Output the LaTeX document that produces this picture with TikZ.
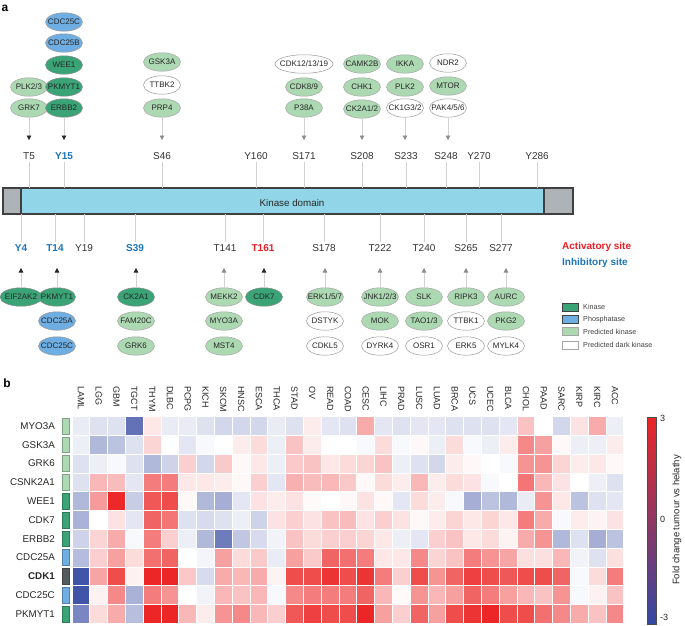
\documentclass[tikz,border=0pt]{standalone}
\usepackage{fontspec}
\setmainfont{Liberation Sans}
\usetikzlibrary{shapes.geometric,arrows.meta}
\definecolor{kgreen}{RGB}{58,164,118}
\definecolor{lgreen}{RGB}{172,217,178}
\definecolor{pblue}{RGB}{110,174,226}
\definecolor{sblue}{RGB}{27,117,188}
\definecolor{sred}{RGB}{237,28,36}
\definecolor{dombar}{RGB}{144,214,232}
\definecolor{greybar}{RGB}{174,179,184}
\definecolor{hmred}{RGB}{236,38,38}
\definecolor{hmblue}{RGB}{52,72,162}
\definecolor{cdkgrey}{RGB}{85,90,95}
\newcommand{\zb}[1]{\makebox[0pt]{#1}}
\begin{document}
\begin{tikzpicture}[x=1pt,y=-1pt,
  ell/.style={ellipse, minimum width=37pt, minimum height=18.5pt, inner sep=0pt, line width=0.5pt, font=\fontsize{8}{9}\selectfont, text=black!85},
  kin/.style={ell, fill=kgreen, draw=black!45},
  pho/.style={ell, fill=pblue, draw=black!40},
  pkin/.style={ell, fill=lgreen, draw=black!35},
  dkin/.style={ell, fill=white, draw=black!40},
  site/.style={font=\fontsize{10}{12}\selectfont, text=black!80, inner sep=2pt},
  inh/.style={site, text=sblue, font=\bfseries\fontsize{10}{12}\selectfont},
  act/.style={site, text=sred, font=\bfseries\fontsize{10}{12}\selectfont},
  tick/.style={draw=black!18, line width=0.6pt},
  kconn/.style={draw=black!18, line width=0.6pt, -{Triangle[width=4.5pt,length=4.5pt,color=black!85]}},
  pconn/.style={draw=black!18, line width=0.6pt, -{Triangle[width=4.5pt,length=4.5pt,color=black!45]}},
  legbox/.style={rectangle, minimum width=16pt, minimum height=8pt, inner sep=0pt, line width=0.9pt},
  legtxt/.style={anchor=west, font=\fontsize{7.2}{9}\selectfont, text=black!75, inner sep=0pt},
  rowlab/.style={anchor=east, font=\fontsize{9.8}{11}\selectfont, text=black!85, inner sep=0pt},
  collab/.style={anchor=west, rotate=-90, font=\fontsize{9}{11}\selectfont, text=black!85, inner sep=0pt},
  cblab/.style={font=\fontsize{9}{11}\selectfont, text=black!85, inner sep=0pt},
  panel/.style={font=\bfseries\fontsize{12}{13}\selectfont, inner sep=0pt},
]
\useasboundingbox (0,0) rectangle (685,625);

% ---------- panel a ----------
\node[panel] (pa) at (5,8) {a};

% protein bar
\fill[greybar] (3,188) rectangle (21,214);
\fill[dombar] (21,188) rectangle (544,214);
\fill[greybar] (544,188) rectangle (573,214);
\draw[line width=1.1pt, black!75] (3,188) rectangle (573,214);
\draw[line width=1.1pt, black!75] (21,188) -- (21,214);
\draw[line width=1.1pt, black!75] (544,188) -- (544,214);
\node[minimum width=570pt, minimum height=26pt, inner sep=0pt] (bar) at (288,201) {};
\node[font=\fontsize{9.8}{11}\selectfont, text=black!85] (kd) at (292,203) {Kinase domain};

% top sites
\node[site] (sT5) at (29,156) {T5};
\node[inh] (sY15) at (64,156) {Y15};
\node[site] (sS46) at (162,156) {S46};
\node[site] (sY160) at (256,156) {Y160};
\node[site] (sS171) at (304,156) {S171};
\node[site] (sS208) at (362,156) {S208};
\node[site] (sS233) at (406,156) {S233};
\node[site] (sS248) at (446,156) {S248};
\node[site] (sY270) at (479,156) {Y270};
\node[site] (sY286) at (537,156) {Y286};
\foreach \s in {sT5,sY15,sS46,sY160,sS171,sS208,sS233,sS248,sY270,sY286}
  \draw[tick] (\s.south) -- (\s.south |- bar.north);

% bottom sites
\node[inh] (sY4) at (21,248) {Y4};
\node[inh] (sT14) at (55,248) {T14};
\node[site] (sY19) at (84,248) {Y19};
\node[inh] (sS39) at (135,248) {S39};
\node[site] (sT141) at (225,248) {T141};
\node[act] (sT161) at (263,248) {T161};
\node[site] (sS178) at (324,248) {S178};
\node[site] (sT222) at (380,248) {T222};
\node[site] (sT240) at (424,248) {T240};
\node[site] (sS265) at (466,248) {S265};
\node[site] (sS277) at (501,248) {S277};
\foreach \s in {sY4,sT14,sY19,sS39,sT141,sT161,sS178,sT222,sT240,sS265,sS277}
  \draw[tick] (\s.north |- bar.south) -- (\s.north);

% top kinases
\node[pkin] (PLKt) at (29,87) {\zb{PLK2/3}};
\node[pkin] (GRK7t) at (29,108) {\zb{GRK7}};
\node[pho] (CDC25Ct) at (64,22) {\zb{CDC25C}};
\node[pho] (CDC25Bt) at (64,43) {\zb{CDC25B}};
\node[kin] (WEE1t) at (64,65) {\zb{WEE1}};
\node[kin] (PKMYT1t) at (64,87) {\zb{PKMYT1}};
\node[kin] (ERBB2t) at (64,108) {\zb{ERBB2}};
\node[pkin] (GSK3At) at (162,62) {\zb{GSK3A}};
\node[dkin] (TTBK2t) at (162,85) {\zb{TTBK2}};
\node[pkin] (PRP4t) at (162,108) {\zb{PRP4}};
\node[dkin, minimum width=58pt] (CDK12t) at (304,64) {\zb{CDK12/13/19}};
\node[pkin] (CDK8t) at (304,87) {\zb{CDK8/9}};
\node[pkin] (P38At) at (304,108) {\zb{P38A}};
\node[pkin] (CAMK2Bt) at (362,64) {\zb{CAMK2B}};
\node[pkin] (CHK1t) at (362,87) {\zb{CHK1}};
\node[pkin] (CK2A12t) at (362,109) {\zb{CK2A1/2}};
\node[pkin] (IKKAt) at (405,64) {\zb{IKKA}};
\node[pkin] (PLK2t) at (405,87) {\zb{PLK2}};
\node[dkin] (CK1G3t) at (405,108) {\zb{CK1G3/2}};
\node[dkin] (NDR2t) at (448,63) {\zb{NDR2}};
\node[pkin] (MTORt) at (448,86) {\zb{MTOR}};
\node[dkin] (PAKt) at (448,108) {\zb{PAK4/5/6}};

\coordinate (aT5) at (29,140);
\coordinate (aY15) at (64,140);
\coordinate (aS46) at (162,140);
\coordinate (aS171) at (304,140);
\coordinate (aS208) at (362,140);
\coordinate (aS233) at (405,140);
\coordinate (aS248) at (448,140);
\draw[kconn] (GRK7t.south) -- (aT5);
\draw[kconn] (ERBB2t.south) -- (aY15);
\draw[pconn] (PRP4t.south) -- (aS46);
\draw[pconn] (P38At.south) -- (aS171);
\draw[pconn] (CK2A12t.south) -- (aS208);
\draw[pconn] (CK1G3t.south) -- (aS233);
\draw[pconn] (PAKt.south) -- (aS248);

% bottom kinases
\node[kin, minimum width=42pt] (EIFb) at (21,297) {\zb{EIF2AK2}};
\node[kin] (PKMYT1b) at (57,297) {\zb{PKMYT1}};
\node[pho] (CDC25Ab) at (57,321) {\zb{CDC25A}};
\node[pho] (CDC25Cb) at (57,346) {\zb{CDC25C}};
\node[kin] (CK2A1b) at (136,297) {\zb{CK2A1}};
\node[pkin] (FAMb) at (136,321) {\zb{FAM20C}};
\node[pkin] (GRK6b) at (136,346) {\zb{GRK6}};
\node[pkin] (MEKK2b) at (224,297) {\zb{MEKK2}};
\node[pkin] (MYO3Ab) at (224,321) {\zb{MYO3A}};
\node[pkin] (MST4b) at (224,346) {\zb{MST4}};
\node[kin] (CDK7b) at (264,297) {\zb{CDK7}};
\node[pkin] (ERKb) at (325,297) {\zb{ERK1/5/7}};
\node[dkin] (DSTYKb) at (325,321) {\zb{DSTYK}};
\node[dkin] (CDKL5b) at (325,346) {\zb{CDKL5}};
\node[pkin] (JNKb) at (380,297) {\zb{JNK1/2/3}};
\node[pkin] (MOKb) at (380,321) {\zb{MOK}};
\node[dkin] (DYRK4b) at (380,346) {\zb{DYRK4}};
\node[pkin] (SLKb) at (424,297) {\zb{SLK}};
\node[pkin] (TAOb) at (424,321) {\zb{TAO1/3}};
\node[dkin] (OSR1b) at (424,346) {\zb{OSR1}};
\node[pkin] (RIPK3b) at (466,297) {\zb{RIPK3}};
\node[dkin] (TTBK1b) at (466,321) {\zb{TTBK1}};
\node[dkin] (ERK5b) at (466,346) {\zb{ERK5}};
\node[pkin] (AURCb) at (506,297) {\zb{AURC}};
\node[pkin] (PKG2b) at (506,321) {\zb{PKG2}};
\node[dkin] (MYLK4b) at (506,346) {\zb{MYLK4}};

\coordinate (bY4) at (21,268);
\coordinate (bT14) at (57,268);
\coordinate (bS39) at (136,268);
\coordinate (bT141) at (224,268);
\coordinate (bT161) at (264,268);
\coordinate (bS178) at (325,268);
\coordinate (bT222) at (380,268);
\coordinate (bT240) at (424,268);
\coordinate (bS265) at (466,268);
\coordinate (bS277) at (506,268);
\draw[kconn] (EIFb.north) -- (bY4);
\draw[kconn] (PKMYT1b.north) -- (bT14);
\draw[kconn] (CK2A1b.north) -- (bS39);
\draw[pconn] (MEKK2b.north) -- (bT141);
\draw[kconn] (CDK7b.north) -- (bT161);
\draw[pconn] (ERKb.north) -- (bS178);
\draw[pconn] (JNKb.north) -- (bT222);
\draw[pconn] (SLKb.north) -- (bT240);
\draw[pconn] (RIPK3b.north) -- (bS265);
\draw[pconn] (AURCb.north) -- (bS277);

% legends
\node[anchor=west, inner sep=0pt, text=sred, font=\bfseries\fontsize{10}{12}\selectfont] (lact) at (562,247) {Activatory site};
\node[anchor=west, inner sep=0pt, text=sblue, font=\bfseries\fontsize{10}{12}\selectfont] (linh) at (562,263) {Inhibitory site};
\node[legbox, fill=kgreen, draw=black!75] (lk1) at (570,307) {};
\node[legtxt] (lk2) at (583,307) {Kinase};
\node[legbox, fill=pblue, draw=black!75] (lp1) at (570,319.5) {};
\node[legtxt] (lp2) at (583,319.5) {Phosphatase};
\node[legbox, fill=lgreen, draw=black!35] (lg1) at (570,331.5) {};
\node[legtxt] (lg2) at (583,331.5) {Predicted kinase};
\node[legbox, fill=white, draw=black!35] (ld1) at (570,345) {};
\node[legtxt] (ld2) at (583,345) {Predicted dark kinase};

% ---------- panel b ----------
\node[panel] (pb) at (7,383) {b};

\foreach \rv [count=\r] in {
 {-1,-1.5,-1.5,-7,1,-1,-1,-1.5,-2,-2,-2,-1,-1.5,0.8,-1.2,-1.5,3.5,-1.2,-1.5,-1.2,-1.2,-1.5,-1.5,-1.5,-1.2,2.5,0,-2,1.2,3.5,-0.8},
 {-0.8,-3.5,-3,-1.5,1.8,0,-1.2,-0.3,0,0.8,1.5,-0.8,2.5,0.8,0,0,-0.3,1.5,-0.3,0.3,-0.8,1.5,-0.3,-0.8,0.8,5,4,0.3,-0.8,-0.8,0.8},
 {-1.5,-0.8,-0.3,-1.5,-3.5,-2.2,2,-2,2.2,0.3,1,-0.8,2.2,2.5,1,1.5,1.8,2.5,-0.8,-1.5,-2,0.8,0.3,0,-0.3,4.5,4.5,1.8,0.8,1,0.3},
 {-1.5,3,2.8,-1.2,5.5,5.5,1,1,0.8,0.3,2,-1.2,3.3,2.8,3,2.3,0.3,1.5,0.8,3,0.8,1.5,1.2,-0.3,0,5.8,3,1.2,0,-0.8,-1.5},
 {-3.5,4.2,9,-2.5,7,7.5,0.3,-3.5,-4,-1.2,1.2,0.8,1.2,0.2,0,0.3,1.2,0.3,-1.2,1.5,0.8,-0.3,-4,-3,-3.5,-1,4.5,1,-3,-1.5,-1.2},
 {-3.8,0,1.2,-1.2,6.5,5.8,-1.5,-1.8,-1.5,-0.8,-2.2,1.2,2,1.2,2.5,2.8,1.2,2,1.2,0.3,0.8,1.8,1,1.8,1,5.5,3.5,-0.3,0.8,0.5,1.2},
 {-2.2,1.8,3.5,-0.3,5.5,2,-0.8,-3.5,-6.5,-2.8,-1.8,-0.6,2.5,1.5,2,2,1.8,1,-0.8,-1.2,2,2.5,1,1.5,0.5,3.5,4.5,-3.5,-1.5,-4,-3},
 {-3.3,2,4,1.5,6,6.5,0,-0.5,4,1.5,2.2,-1,4,2.2,6.5,6,5.5,1,1,5,1.8,2.5,5.5,4.5,3.8,1.3,1.3,3,-0.6,-1.5,1.3},
 {-8.5,3.8,7.5,0.6,9.5,9.5,2.3,-1.8,3.5,3,3.5,0.5,7.5,7.5,8.5,7.5,8.5,5.5,2,7.5,4.5,6.5,8,7.5,7,7.5,7.5,6.5,-0.3,1.5,5.5},
 {-8.5,0.6,5,-3.8,5.5,4.5,0,-0.6,3,2.5,3,-0.3,5,5.5,5.5,5.5,6.5,3,0.2,4.5,3,4,6.5,5.5,4,3,2.5,4.5,-0.3,0.6,2.5},
 {-6,1.5,3.5,-3.2,9.5,9.5,3,0.8,4.5,5,3,2,7,8,7.5,7.5,9.5,4,2,6.5,4,7.5,8.5,9.5,7.5,7.5,6,5,3.5,2.5,5}}
{
  \foreach \v [count=\c] in \rv {
    \pgfmathsetmacro\pct{min(100,abs(\v)*11)}
    \ifdim \v pt<0pt \def\hc{hmblue}\else\def\hc{hmred}\fi
    \fill[\hc!\pct!white, draw=white, line width=0.7pt] ({72+(\c-1)*17.8},{416.5+(\r-1)*18.8}) rectangle ++(17.8,18.8);
  }
}

\foreach \nm [count=\r] in {MYO3A,GSK3A,GRK6,CSNK2A1,WEE1,CDK7,ERBB2,CDC25A,{\textbf{CDK1}},CDC25C,PKMYT1}
  \node[rowlab] (row\r) at (55,{416.5+(\r-0.5)*18.8}) {\nm};

\foreach \cl [count=\r] in {lgreen,lgreen,lgreen,lgreen,kgreen,kgreen,kgreen,pblue,cdkgrey,pblue,kgreen}
  \filldraw[fill=\cl, draw=\cl!75!black, line width=0.6pt] (62,{416.5+(\r-1)*18.8+1.5}) rectangle (69.3,{416.5+\r*18.8-1.5});

\foreach \nm [count=\c] in {LAML,LGG,GBM,TGCT,THYM,DLBC,PCPG,KICH,SKCM,HNSC,ESCA,THCA,STAD,OV,READ,COAD,CESC,LIHC,PRAD,LUSC,LUAD,BRCA,UCS,UCEC,BLCA,CHOL,PAAD,SARC,KIRP,KIRC,ACC}
  \node[collab] (col\c) at ({72+(\c-0.5)*17.8},386) {\nm};

% colour bar
\shade[top color=hmred, middle color=white, bottom color=hmblue] (647,417) rectangle (656,624);
\draw[line width=1pt, black!70] (647,417) rectangle (656,624);
\node[cblab, anchor=west] (cb3) at (660,418) {3};
\node[cblab, anchor=west] (cb0) at (660,519) {0};
\node[cblab, anchor=west] (cbm) at (660,617) {-3};
\node[rotate=90, font=\fontsize{9.5}{11}\selectfont, text=black!85, inner sep=0pt] (cbt) at (677,520) {Fold change tumour vs helathy};
\end{tikzpicture}
\end{document}
